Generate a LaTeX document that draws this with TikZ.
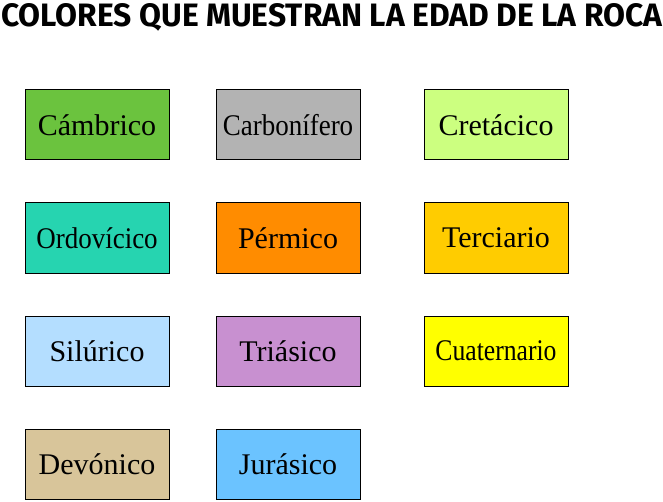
\documentclass[tikz,border=0pt]{standalone}
\usepackage{fontspec}
\setmainfont{Liberation Serif}
\newfontfamily\titlefont{Fira Sans}
\usepackage{graphicx}
\usetikzlibrary{positioning}

\definecolor{cambrico}{RGB}{107,195,62}
\definecolor{ordovicico}{RGB}{38,212,176}
\definecolor{silurico}{RGB}{180,222,255}
\definecolor{devonico}{RGB}{216,197,154}
\definecolor{carbonifero}{RGB}{179,179,179}
\definecolor{permico}{RGB}{255,140,0}
\definecolor{triasico}{RGB}{200,144,208}
\definecolor{jurasico}{RGB}{107,195,255}
\definecolor{cretacico}{RGB}{204,255,128}
\definecolor{terciario}{RGB}{255,204,0}
\definecolor{cuaternario}{RGB}{255,255,0}

\newcommand{\squeeze}[2]{\scalebox{#1}[1]{#2}}

\begin{document}
\begin{tikzpicture}[x=1pt,y=1pt,node distance=42pt and 46pt,
  era/.style={rectangle,draw,line width=1pt,minimum width=144pt,minimum height=70pt,
              inner sep=0pt,font=\fontsize{30}{33}\selectfont}]
\useasboundingbox (0,0) rectangle (663,501);
\node[anchor=base west,inner sep=0pt] (title) at (1,474)
  {\resizebox{661pt}{23pt}{\titlefont\bfseries COLORES QUE MUESTRAN LA EDAD DE LA ROCA}};
% first column
\node[era,fill=cambrico] (camb) at (97,376) {Cámbrico};
\node[era,fill=ordovicico,below=of camb] (ordo) {\squeeze{0.9}{Ordovícico}};
\node[era,fill=silurico,below=of ordo] (silu) {Silúrico};
\node[era,fill=devonico,below=of silu] (devo) {Devónico};
% second column
\node[era,fill=carbonifero,right=of camb] (carb) {\squeeze{0.9}{Carbonífero}};
\node[era,fill=permico,below=of carb] (perm) {Pérmico};
\node[era,fill=triasico,below=of perm] (tria) {Triásico};
\node[era,fill=jurasico,below=of tria] (jura) {Jurásico};
% third column
\node[era,fill=cretacico,right=63pt of carb] (cret) {Cretácico};
\node[era,fill=terciario,below=of cret] (terc) {Terciario};
\node[era,fill=cuaternario,below=of terc] (cuat) {\squeeze{0.855}{Cuaternario}};
\end{tikzpicture}
\end{document}
